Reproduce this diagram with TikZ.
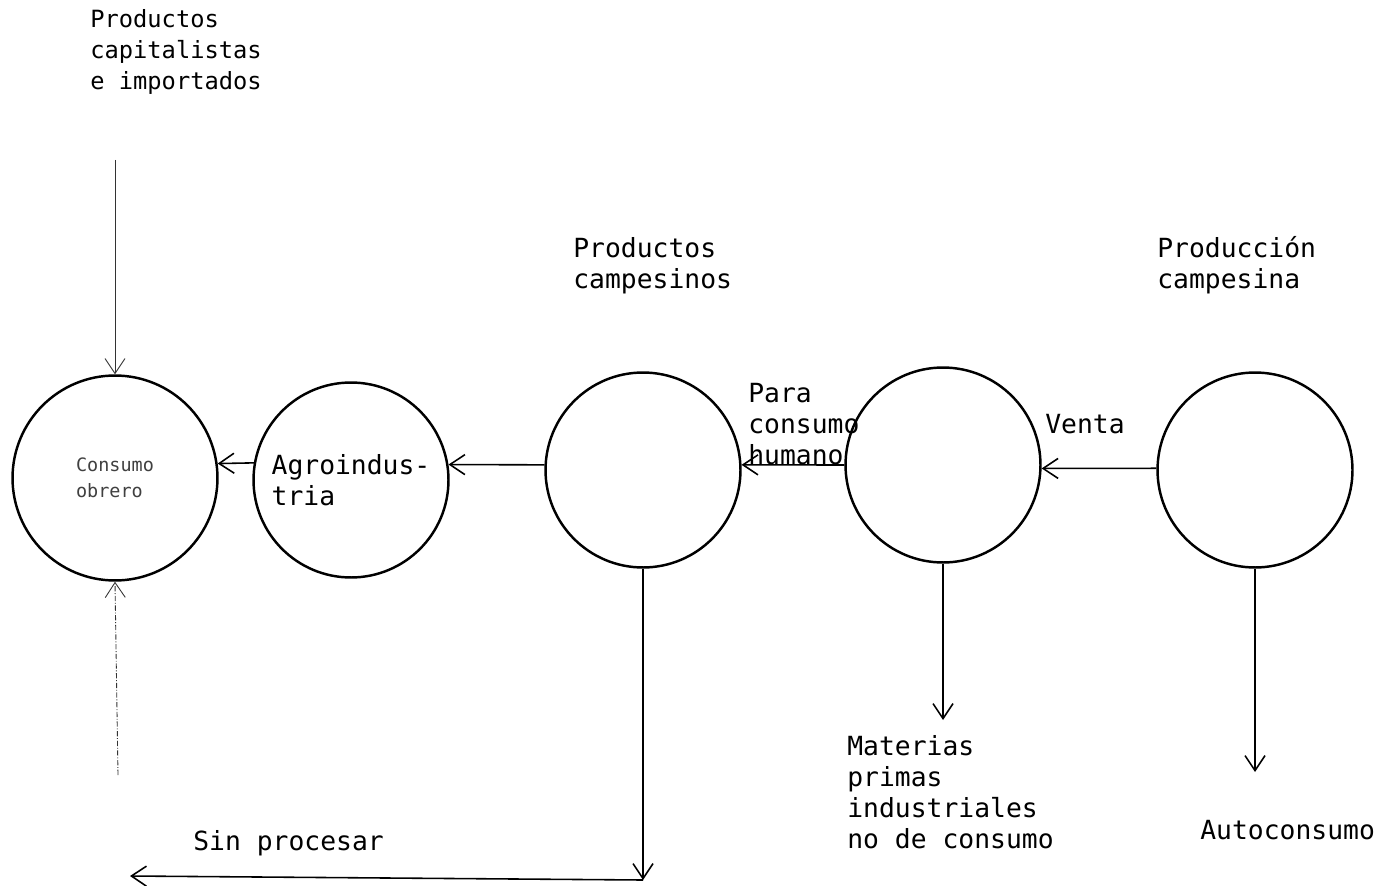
\documentclass[tikz,border=0pt]{standalone}
\usepackage{fontspec}
\setmonofont{DejaVu Sans Mono}
\usetikzlibrary{arrows.meta}

\begin{document}
\begin{tikzpicture}[x=0.02cm,y=-0.02cm]
\tikzset{circulo/.style={draw,circle,line width=1.4pt,minimum size=3.9cm,inner sep=0pt,align=left,font={\ttfamily\fontsize{15}{17.6}\selectfont}},
  texto/.style={anchor=north west,inner sep=0pt,align=left,font={\ttfamily\fontsize{15}{17.6}\selectfont}},
  flecha/.style={-{Straight Barb[length=3mm,width=4mm]},line width=0.9pt},
  fina/.style={-{Straight Barb[length=3mm,width=4mm]},line width=0.5pt,black!80}}
\useasboundingbox (0,0) rectangle (1395,885);

% Circulos
\node (obrero) at (115,478) [circulo,minimum size=4.1cm,font={\ttfamily\fontsize{10.5}{15}\selectfont},text=black!75] {Consumo\\obrero};
\node (agro) at (351,480) [circulo] {Agroindus-\\tria};
\node (pcamp) at (643,470) [circulo] {};
\node (mprim) at (943,465) [circulo] {};
\node (prod) at (1255,470) [circulo] {};

% Textos
\node (tcap) at (90,9) [texto,font={\ttfamily\fontsize{13.5}{17.6}\selectfont}] {Productos\\capitalistas\\e importados};
\node (tpc) at (573,237) [texto] {Productos\\campesinos};
\node (tprod) at (1157,236) [texto] {Producción\\campesina};
\node (thum) at (748,383) [texto] {Para\\consumo\\humano};
\node (tventa) at (1045,414) [texto] {Venta};
\node (tmat) at (847,735) [texto] {Materias\\primas\\industriales\\no de consumo};
\node (tauto) at (1200,820) [texto] {Autoconsumo};
\node (tsin) at (193,830) [texto] {Sin procesar};

% Extremos libres
\coordinate (c1) at (115,160);
\coordinate (c2) at (118,775);
\coordinate (c3) at (943,720);
\coordinate (c4) at (1255,772);
\coordinate (c5) at (643,880);
\coordinate (c6) at (130,876);

\path
(c1) edge [fina] (obrero.north)
(c2) edge [fina,densely dashdotted] (obrero.south)
(agro.170) edge [flecha] (obrero.8.5)
(pcamp.177) edge [flecha] (agro.9)
(mprim.west) edge [flecha] (pcamp.3)
(prod.179) edge [flecha] (mprim.-2)
(mprim.south) edge [flecha] (c3)
(prod.south) edge [flecha] (c4)
(pcamp.south) edge [flecha] (c5)
(c5) edge [flecha] (c6);

\end{tikzpicture}
\end{document}
